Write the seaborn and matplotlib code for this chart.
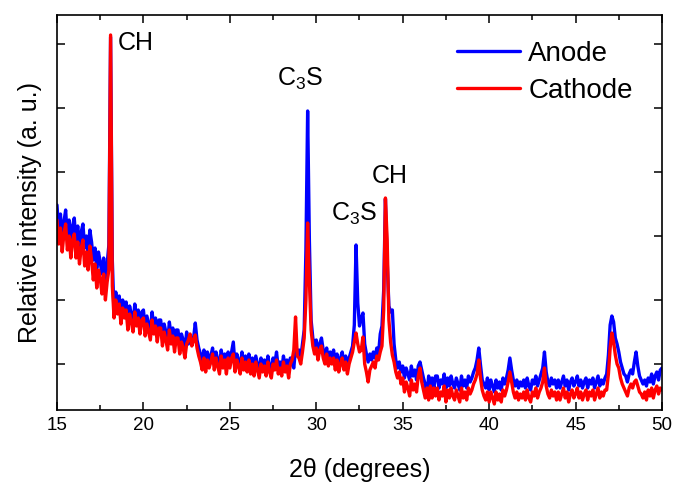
import numpy as np
import pandas as pd
import matplotlib
matplotlib.use("Agg")
import matplotlib.pyplot as plt
import seaborn as sns

# ---- data (relative intensity, arbitrary units) ----
two_theta = np.arange(150, 501) / 10  # 15.0 ... 50.0 step 0.1 degrees

anode = [
    205, 178, 196, 170, 188, 200, 172, 190, 168, 184,   # 15
    192, 166, 184, 160, 178, 186, 162, 174, 158, 180,   # 16
    168, 150, 162, 142, 158, 148, 136, 152, 130, 146,   # 17
    165, 373, 150, 96, 118, 102, 114, 94, 110, 100,     # 18
    108, 88, 104, 96, 86, 106, 92, 100, 84, 98,         # 19
    100, 82, 94, 86, 78, 98, 84, 92, 76, 90,            # 20
    90, 72, 86, 78, 68, 88, 74, 82, 66, 80,             # 21
    80, 64, 76, 70, 60, 78, 66, 74, 68, 72,             # 22
    87, 70, 62, 56, 48, 60, 46, 58, 50, 54,             # 23
    62, 46, 58, 50, 44, 60, 48, 56, 42, 58,             # 24
    48, 58, 68, 44, 56, 50, 42, 58, 46, 54,             # 25
    44, 56, 42, 52, 40, 54, 46, 38, 52, 44,             # 26
    50, 40, 54, 44, 38, 52, 46, 58, 42, 48,             # 27
    40, 54, 44, 50, 38, 52, 46, 42, 62, 56,             # 28
    60, 52, 66, 80, 160, 299, 170, 90, 72, 64,          # 29
    70, 58, 66, 72, 60, 54, 62, 50, 58, 52,             # 30
    60, 48, 56, 44, 52, 58, 46, 54, 42, 52,             # 31
    58, 64, 85, 165, 107, 84, 92, 97, 66, 56,           # 32
    48, 56, 50, 58, 52, 62, 56, 76, 84, 120,            # 33
    211, 150, 104, 98, 100, 66, 50, 42, 48, 38,         # 34
    44, 32, 42, 36, 30, 44, 34, 40, 30, 44,             # 35
    48, 40, 32, 26, 13, 34, 24, 32, 22, 34,             # 36
    34, 22, 30, 26, 36, 22, 32, 24, 34, 26,             # 37
    22, 32, 26, 20, 34, 24, 30, 22, 34, 28,             # 38
    32, 38, 42, 50, 62, 45, 30, 26, 22, 32,             # 39
    20, 30, 24, 18, 30, 22, 28, 20, 32, 26,             # 40
    32, 40, 52, 40, 30, 24, 30, 22, 28, 24,             # 41
    30, 22, 32, 24, 20, 30, 26, 34, 24, 30,             # 42
    36, 42, 58, 38, 28, 24, 32, 26, 30, 22,             # 43
    30, 22, 28, 34, 24, 30, 20, 28, 32, 24,             # 44
    28, 34, 24, 30, 22, 28, 32, 22, 30, 26,             # 45
    32, 22, 28, 34, 24, 30, 26, 32, 36, 55,             # 46
    85, 94, 88, 72, 66, 58, 48, 42, 36, 34,             # 47
    28, 36, 40, 36, 48, 58, 44, 34, 30, 26,             # 48
    30, 24, 32, 28, 36, 26, 34, 38, 30, 40,             # 49
    42,                                                 # 50
]

cathode = [
    190, 166, 182, 158, 176, 186, 160, 174, 152, 170,   # 15
    176, 152, 168, 146, 162, 170, 144, 158, 140, 164,   # 16
    150, 130, 146, 122, 140, 132, 116, 136, 110, 128,   # 17
    140, 375, 124, 92, 110, 96, 106, 86, 102, 92,       # 18
    100, 80, 96, 88, 78, 98, 84, 92, 76, 90,            # 19
    92, 74, 86, 78, 70, 90, 76, 84, 68, 82,             # 20
    82, 64, 78, 70, 60, 80, 66, 74, 58, 72,             # 21
    72, 56, 68, 62, 52, 66, 70, 76, 64, 70,             # 22
    75, 62, 54, 48, 40, 52, 38, 50, 42, 48,             # 23
    56, 40, 52, 44, 36, 54, 42, 50, 36, 52,             # 24
    42, 52, 56, 38, 50, 44, 36, 52, 40, 48,             # 25
    38, 50, 36, 46, 34, 48, 40, 32, 46, 38,             # 26
    44, 34, 48, 38, 32, 46, 40, 50, 36, 42,             # 27
    34, 48, 38, 44, 32, 46, 50, 60, 93, 54,             # 28
    52, 46, 58, 72, 110, 187, 130, 80, 64, 56,          # 29
    62, 50, 60, 64, 52, 46, 56, 44, 52, 46,             # 30
    52, 40, 50, 38, 46, 52, 40, 48, 36, 46,             # 31
    52, 58, 68, 77, 66, 58, 60, 73, 46, 38,             # 32
    28, 40, 44, 48, 42, 54, 50, 58, 64, 100,            # 33
    212, 170, 90, 68, 55, 48, 38, 32, 38, 26,           # 34
    32, 18, 28, 22, 14, 30, 20, 26, 18, 34,             # 35
    42, 28, 20, 12, 22, 10, 24, 12, 22, 14,             # 36
    22, 10, 18, 14, 24, 8, 20, 12, 22, 14,              # 37
    10, 20, 14, 8, 22, 12, 18, 10, 22, 16,              # 38
    20, 26, 30, 36, 50, 32, 20, 14, 10, 18,             # 39
    8, 18, 12, 6, 18, 10, 16, 8, 20, 14,                # 40
    20, 28, 38, 28, 18, 12, 18, 10, 16, 12,             # 41
    18, 10, 20, 12, 8, 18, 14, 22, 12, 18,              # 42
    22, 28, 42, 24, 16, 12, 20, 14, 18, 10,             # 43
    18, 10, 16, 22, 12, 18, 8, 16, 20, 12,              # 44
    16, 22, 12, 18, 10, 16, 20, 10, 18, 14,             # 45
    20, 10, 16, 22, 12, 18, 14, 20, 20, 36,             # 46
    62, 77, 68, 55, 46, 42, 32, 26, 22, 18,             # 47
    14, 22, 26, 22, 28, 30, 24, 18, 16, 12,             # 48
    18, 10, 20, 14, 22, 12, 20, 24, 16, 22,             # 49
    20,                                                 # 50
]

series_names = ["Anode", "Cathode"]
series_colors = ["#0000FF", "#FF0000"]
x_ticks = [15, 20, 25, 30, 35, 40, 45, 50]
peak_labels = ["CH", "C$_3$S", "C$_3$S", "CH"]
peak_x = [18.53, 29.06, 32.18, 34.27]
peak_y = [360, 324, 189, 227]
peak_ha = ["left", "center", "center", "center"]

# ---- style ----
sns.set_theme(style="ticks")
plt.rcParams["font.family"] = ["Liberation Sans", "DejaVu Sans"]
plt.rcParams["mathtext.fontset"] = "custom"
plt.rcParams["mathtext.rm"] = "Liberation Sans"
plt.rcParams["mathtext.it"] = "Liberation Sans:italic"
plt.rcParams["mathtext.bf"] = "Liberation Sans:bold"
plt.rcParams["text.color"] = "black"
plt.rcParams["axes.labelcolor"] = "black"

df = pd.DataFrame({
    "two_theta": np.concatenate([two_theta, two_theta]),
    "intensity": anode + cathode,
    "sample": [series_names[0]] * len(anode) + [series_names[1]] * len(cathode),
})

fig = plt.figure(figsize=(6.73, 4.82), dpi=100)
ax = fig.add_axes([57 / 673, 1 - 410 / 482, 605 / 673, 395 / 482])

sns.lineplot(data=df, x="two_theta", y="intensity", hue="sample",
             hue_order=series_names,
             palette=dict(zip(series_names, series_colors)),
             estimator=None, sort=False, linewidth=2.4, ax=ax)

ax.set_xlim(15, 50)
ax.set_ylim(0, 395)
ax.set_xticks(x_ticks)
ax.set_xticks([17.5, 22.5, 27.5, 32.5, 37.5, 42.5, 47.5], minor=True)
ax.set_yticks([46, 110, 174, 238, 302, 366])
ax.set_yticklabels([])
ax.tick_params(which="both", direction="in", top=True, right=True, width=1.1,
               colors="black", labelsize=13.5, pad=5)
ax.tick_params(which="major", length=6)
ax.tick_params(which="minor", length=3.5)
for s in ax.spines.values():
    s.set_linewidth(1.2)
    s.set_color("black")

ax.set_xlabel("2θ (degrees)", fontsize=18, labelpad=17)
ax.set_ylabel("Relative intensity (a. u.)", fontsize=18, labelpad=6)

for t, x, y, ha in zip(peak_labels, peak_x, peak_y, peak_ha):
    ax.text(x, y, t, fontsize=18, ha=ha, va="baseline", color="black")

ax.legend(loc="upper left", bbox_to_anchor=(0.643, 0.962), frameon=False,
          fontsize=20, handlelength=2.27, handletextpad=0.29, labelspacing=0.38,
          borderaxespad=0.0)

fig.savefig("out.png", dpi=100)
